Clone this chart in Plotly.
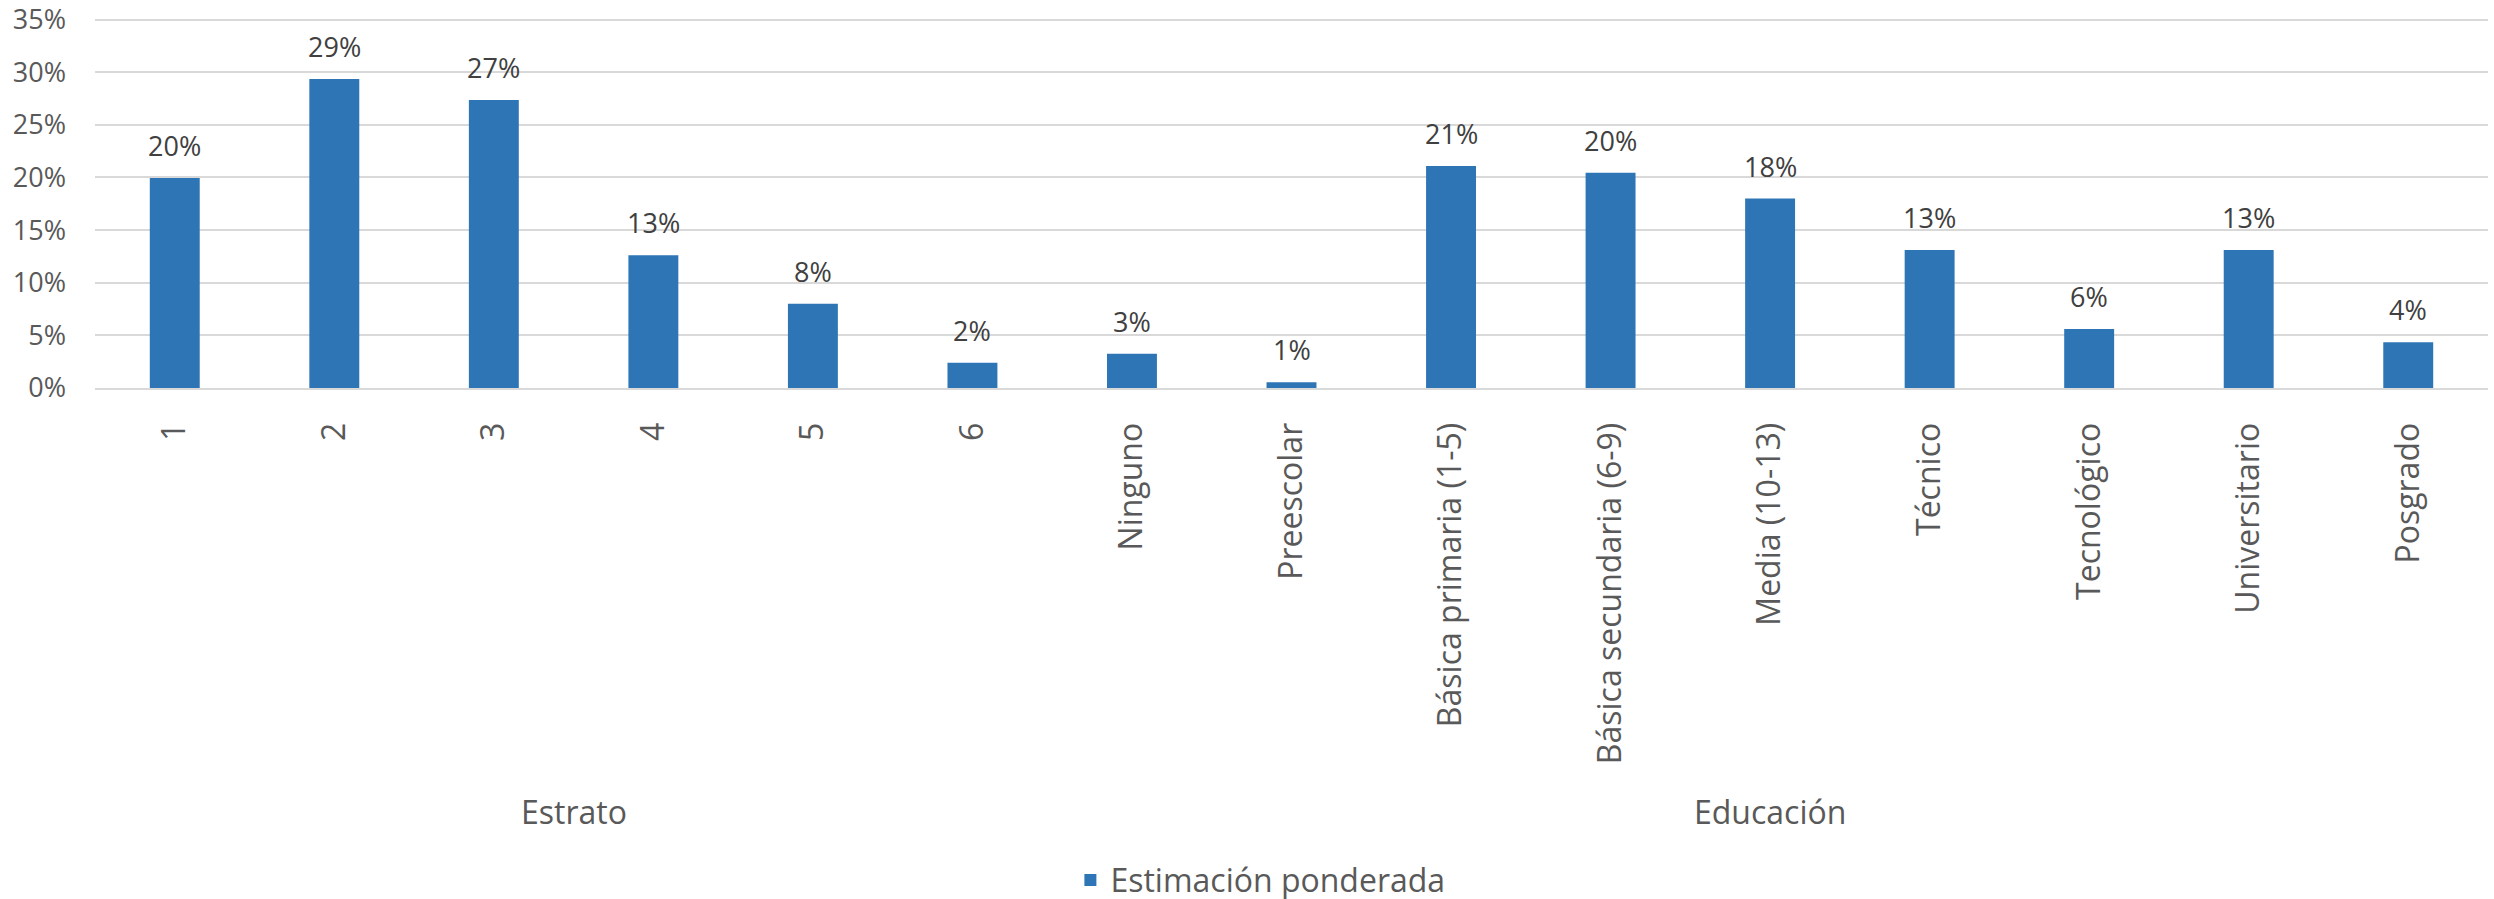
import plotly.graph_objects as go

categories = ["1", "2", "3", "4", "5", "6",
              "Ninguno", "Preescolar", "Básica primaria (1-5)", "Básica secundaria (6-9)",
              "Media (10-13)", "Técnico", "Tecnológico", "Universitario", "Posgrado"]
values = [19.95, 29.35, 27.35, 12.6, 8.0, 2.4,
          3.25, 0.55, 21.1, 20.45, 18.0, 13.1, 5.6, 13.1, 4.35]
groups = ["Estrato", "Educación"]
group_sizes = [6, 9]
series_name = "Estimación ponderada"
y_ticks = [0, 5, 10, 15, 20, 25, 30, 35]
y_tick_text = [f"{t}%" for t in y_ticks]

FONT = "Open Sans"
BLUE = "#2E75B6"
GRID = "#D9D9D9"
TXT = "#595959"
LBL = "#404040"
NUM_SIZE = 27
TXT_SIZE = 32

fig = go.Figure()
fig.add_trace(go.Bar(
    x=list(range(len(categories))), y=values, name=series_name,
    marker=dict(color=BLUE, line=dict(width=0)),
    showlegend=True,
))

annotations = []
for i, v in enumerate(values):
    annotations.append(dict(
        x=i, y=v, xref="x", yref="y", text=f"{round(v):.0f}%",
        showarrow=False, yanchor="bottom", yshift=12,
        font=dict(family=FONT, size=NUM_SIZE, color=LBL),
    ))

start = 0
for g, n in zip(groups, group_sizes):
    center = start + (n - 1) / 2
    annotations.append(dict(
        x=center, y=-1.1455, xref="x", yref="paper", text=g,
        showarrow=False, yanchor="middle", xanchor="center",
        font=dict(family=FONT, size=TXT_SIZE, color=TXT),
    ))
    start += n

fig.update_layout(
    width=2494, height=899,
    margin=dict(l=95, r=6, t=18, b=511, pad=0, autoexpand=False),
    paper_bgcolor="white", plot_bgcolor="white",
    bargap=0.687,
    font=dict(family=FONT, size=TXT_SIZE, color=TXT),
    annotations=annotations,
    legend=dict(orientation="h", x=0.487, xanchor="center", y=-1.33, yanchor="middle",
                font=dict(family=FONT, size=TXT_SIZE, color=TXT)),
    xaxis=dict(tickmode="array", tickvals=list(range(len(categories))), ticktext=categories,
               range=[-0.5, len(categories) - 0.5], automargin=False,
               tickangle=-90, showgrid=False, showline=True,
               linecolor=GRID, linewidth=2, ticks="", zeroline=False,
               tickfont=dict(family=FONT, size=TXT_SIZE, color=TXT),
               ticklabelstandoff=20, ticklabeloverflow="allow"),
    yaxis=dict(range=[0, 35.15], tickmode="array", tickvals=y_ticks, ticktext=y_tick_text,
               automargin=False, ticklabeloverflow="allow",
               showgrid=True, gridcolor=GRID, gridwidth=2, zeroline=False, showline=False, ticks="",
               tickfont=dict(family=FONT, size=NUM_SIZE, color=TXT), ticklabelstandoff=28),
)

fig.write_html("out.html", config={"displayModeBar": False},
               post_script="document.body.style.margin='0';document.body.style.overflow='hidden';")
